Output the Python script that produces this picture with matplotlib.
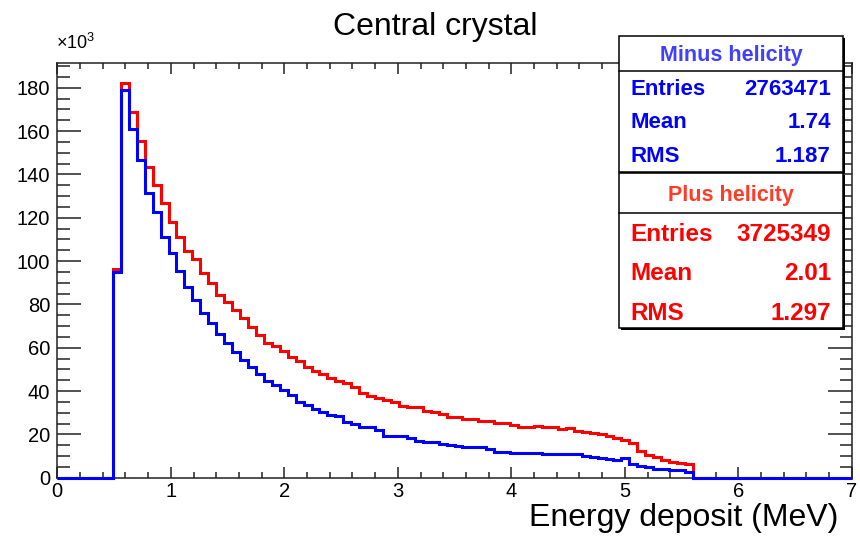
import numpy as np
import matplotlib
matplotlib.use("Agg")
from matplotlib import pyplot as plt
from matplotlib.patches import Rectangle
from matplotlib.lines import Line2D
from matplotlib.ticker import MultipleLocator

plt.rcParams['font.family'] = ['Liberation Sans', 'DejaVu Sans']

# 100 bins of 0.07 MeV between 0 and 7 MeV; contents in units of 10^3
n_bins = 100
e_min, e_max = 0.0, 7.0
first_bin = 7  # first filled bin (0.49 MeV)

minus_counts = [
    95.0, 179.0, 161.0, 146.6, 131.5, 122.8, 111.2, 103.5, 95.4, 87.9,
    82.0, 75.9, 71.2, 66.2, 62.0, 58.1, 54.3, 51.2, 47.9, 44.8,
    42.8, 40.5, 38.2, 35.1, 33.5, 31.7, 30.2, 28.9, 28.3, 25.8,
    24.6, 23.3, 23.3, 22.0, 19.4, 19.4, 19.4, 18.2, 17.1, 16.6,
    16.3, 15.6, 15.0, 14.6, 14.0, 14.0, 14.0, 13.2, 12.0, 12.0,
    11.5, 11.5, 11.5, 11.5, 10.9, 10.9, 10.9, 10.9, 10.8, 10.0,
    9.7, 9.2, 8.6, 8.2, 8.9, 6.3, 5.4, 4.8, 4.0, 3.9,
    3.6, 3.6, 2.5,
]
plus_counts = [
    96.5, 182.3, 168.8, 155.2, 143.2, 134.9, 126.6, 118.1, 111.2, 104.8,
    100.9, 94.3, 89.7, 84.2, 81.2, 77.4, 73.6, 69.4, 65.9, 62.3,
    60.8, 58.6, 55.8, 54.0, 51.2, 49.2, 47.9, 45.9, 44.5, 43.6,
    41.7, 39.2, 37.7, 36.9, 35.9, 34.8, 33.2, 32.5, 32.5, 30.9,
    30.2, 29.4, 27.9, 27.9, 27.1, 27.1, 26.2, 26.2, 25.1, 25.1,
    24.3, 23.3, 23.3, 24.0, 23.3, 23.3, 22.3, 22.8, 21.5, 21.2,
    20.8, 20.0, 19.2, 18.2, 17.4, 15.9, 12.3, 10.5, 9.4, 8.2,
    7.4, 6.9, 6.3,
]

# stat box contents
minus_title = 'Minus helicity'
minus_stats = [('Entries', '2763471'), ('Mean', '1.74'), ('RMS', '1.187')]
plus_title = 'Plus helicity'
plus_stats = [('Entries', '3725349'), ('Mean', '2.01'), ('RMS', '1.297')]


def fill_bins(counts):
    h = np.zeros(n_bins)
    h[first_bin:first_bin + len(counts)] = counts
    return h


edges = np.linspace(e_min, e_max, n_bins + 1)
h_minus = fill_bins(minus_counts)
h_plus = fill_bins(plus_counts)

W, H = 860, 540
fig = plt.figure(figsize=(W / 100, H / 100), dpi=100)


def fx(px):
    return px / W


def fy(py):
    return 1 - py / H


ax = fig.add_axes([fx(57.3), fy(477.7), fx(851.8) - fx(57.3), fy(63) - fy(477.7)])
ax.stairs(h_plus, edges, color='#ff0000', lw=2.2, clip_on=False, zorder=3)
ax.stairs(h_minus, edges, color='#0000ff', lw=2.2, clip_on=False, zorder=4)

ax.set_xlim(e_min, e_max)
ax.set_ylim(0, 1.05 * max(h_plus.max(), h_minus.max()))
ax.xaxis.set_major_locator(MultipleLocator(1))
ax.xaxis.set_minor_locator(MultipleLocator(0.2))
ax.yaxis.set_major_locator(MultipleLocator(20))
ax.yaxis.set_minor_locator(MultipleLocator(5))
ax.tick_params(which='both', direction='in', top=True, right=True,
               width=1.1, color='#222222', labelsize=14.5)
ax.tick_params(axis='x', which='major', length=8, pad=3)
ax.tick_params(axis='x', which='minor', length=4)
ax.tick_params(axis='y', which='major', length=17, pad=5)
ax.tick_params(axis='y', which='minor', length=9)
for sp in ax.spines.values():
    sp.set_linewidth(1.1)
    sp.set_color('#222222')

fig.text(fx(435), fy(35), 'Central crystal', ha='center', va='baseline', fontsize=23)
fig.text(fx(838), fy(526), 'Energy deposit (MeV)', ha='right', va='baseline', fontsize=23)
fig.text(fx(56), fy(49), r'$\mathregular{\times10^{3}}$', ha='left', va='baseline', fontsize=13)


def stat_box(top, sep, bottom, title, title_color, rows, color, size, row_y):
    x0, x1 = 619.3, 843.3
    shadow = Rectangle((fx(x0 + 2), fy(bottom + 2)), fx(x1) - fx(x0), fy(top) - fy(bottom),
                       transform=fig.transFigure, facecolor='black', edgecolor='none', zorder=5)
    frame = Rectangle((fx(x0), fy(bottom)), fx(x1) - fx(x0), fy(top) - fy(bottom),
                      transform=fig.transFigure, facecolor='white', edgecolor='black',
                      lw=1.1, zorder=6)
    fig.add_artist(shadow)
    fig.add_artist(frame)
    fig.add_artist(Line2D([fx(x0), fx(x1)], [fy(sep), fy(sep)], transform=fig.transFigure,
                          color='black', lw=1.1, zorder=7))
    fig.text(fx((x0 + x1) / 2), fy((top + sep) / 2), title, ha='center', va='center_baseline',
             fontsize=15.5, fontweight='bold', color=title_color, zorder=8)
    for (name, val), y in zip(rows, row_y):
        fig.text(fx(630.5), fy(y), name, ha='left', va='center_baseline',
                 fontsize=size, fontweight='bold', color=color, zorder=8)
        fig.text(fx(831), fy(y), val, ha='right', va='center_baseline',
                 fontsize=size, fontweight='bold', color=color, zorder=8)


stat_box(36, 70.7, 171.7, minus_title, '#4040ff', minus_stats, '#0000ff', 16,
         [87, 120.5, 154])
stat_box(173.3, 212.7, 328.3, plus_title, '#ff3c28', plus_stats, '#ff0000', 17.5,
         [232, 270.5, 310.5])

fig.savefig('out.png', dpi=100)
